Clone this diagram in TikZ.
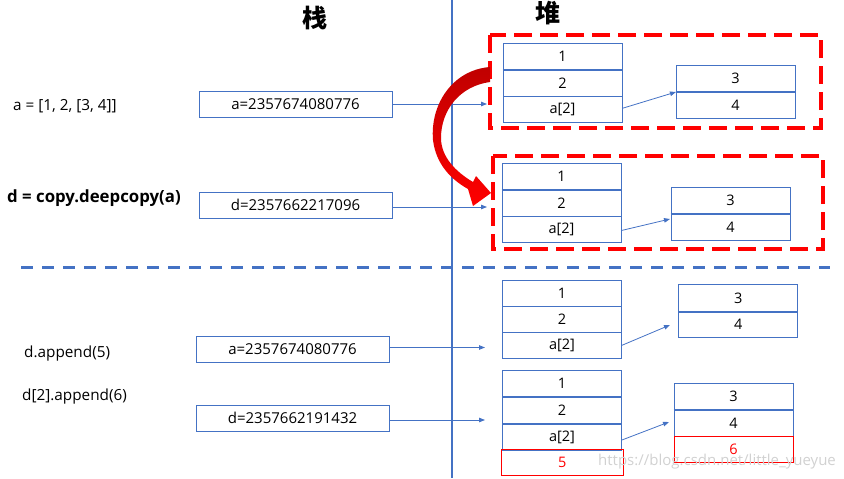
\documentclass[tikz,border=0pt]{standalone}
\usepackage{fontspec}
\setmainfont{Open Sans}
\newfontfamily\cjk{Noto Sans CJK SC}
\usetikzlibrary{arrows.meta}
\definecolor{bx}{HTML}{4472C4}
\definecolor{rd}{HTML}{FF0000}
\begin{document}
\begin{tikzpicture}[x=1pt,y=-1pt,
  cell/.style={draw=bx,line width=0.9pt,minimum width=119pt,minimum height=26.3pt,inner sep=0pt,font=\fontsize{14.5}{16}\selectfont},
  rcell/.style={cell,draw=rd,text=rd},
  sbox/.style={draw=bx,line width=0.9pt,minimum width=193pt,minimum height=26pt,inner sep=0pt,font=\fontsize{15}{17}\selectfont},
  sep/.style={draw=bx,line width=2pt},
  ptr/.style={draw=bx,line width=0.8pt,-{Triangle[length=6pt,width=4.5pt]}},
  reddash/.style={draw=rd,line width=4pt,dash pattern=on 18pt off 8pt},
  lbl/.style={font=\fontsize{15.3}{17}\selectfont,inner sep=0pt,anchor=west}]
\useasboundingbox (0,0) rectangle (844,479);
% titles
\node[font=\cjk\bfseries\fontsize{25}{27}\selectfont] (tstack) at (315,18) {栈};
\node[font=\cjk\bfseries\fontsize{25}{27}\selectfont] (theap) at (548,13) {堆};
% dividers
\draw[bx,line width=2pt] (452,0) -- (452,478);
\draw[bx,line width=3pt,dash pattern=on 12pt off 9pt] (21,267) -- (830,267);
% left labels
\node[lbl] (la) at (13,106) {a = [1, 2, [3, 4]]};
\node[lbl,font=\bfseries\fontsize{16.8}{18}\selectfont] (ld) at (7,198) {d = copy.deepcopy(a)};
\node[lbl] (lapp) at (24,354) {d.append(5)};
\node[lbl] (lapp2) at (22,397) {d[2].append(6)};
% stack boxes
\node[sbox] (s1) at (295.5,104) {a=2357674080776};
\node[sbox] (s2) at (295.5,205) {d=2357662217096};
\node[sbox] (s3) at (292.5,349) {a=2357674080776};
\node[sbox] (s4) at (292.5,418) {d=2357662191432};
% red dashed boxes
\draw[reddash] (490,35) rectangle (821,128);
\draw[reddash] (493,156) rectangle (823,249);
% heap list 1
\node[cell] (h1a) at (562.5,56.5) {1};
\node[cell] (h1b) at (562.5,83) {2};
\node[cell] (h1c) at (562.5,109.3) {a[2]};
\draw[sep] (h1a.south west) -- (h1a.south east);
\node[cell] (i1a) at (735.5,78.5) {3};
\node[cell] (i1b) at (735.5,105) {4};
\draw[sep] (i1a.south west) -- (i1a.south east);
% heap list 2
\node[cell] (h2a) at (561.5,176.7) {1};
\node[cell] (h2b) at (561.5,203.3) {2};
\node[cell] (h2c) at (561.5,229.5) {a[2]};
\draw[sep] (h2a.south west) -- (h2a.south east);
\node[cell] (i2a) at (730.5,200.3) {3};
\node[cell] (i2b) at (730.5,226.8) {4};
\draw[sep] (i2a.south west) -- (i2a.south east);
% heap list 3
\node[cell] (h3a) at (562,293.7) {1};
\node[cell] (h3b) at (562,319.5) {2};
\node[cell] (h3c) at (562,345.3) {a[2]};
\node[cell] (i3a) at (738.3,298) {3};
\node[cell] (i3b) at (738.3,324.2) {4};
\draw[sep] (i3a.south west) -- (i3a.south east);
% heap list 4
\node[cell] (h4a) at (562,383.7) {1};
\node[cell] (h4b) at (562,410.5) {2};
\node[cell] (h4c) at (562,437) {a[2]};
\node[rcell,minimum width=122pt] (h4d) at (562.3,462.2) {5};
\draw[sep] (h4a.south west) -- (h4a.south east);
\draw[sep] (h4b.south west) -- (h4b.south east);
\node[cell] (i4a) at (733.5,396.5) {3};
\node[cell] (i4b) at (733.5,422.8) {4};
\node[rcell] (i4c) at (733.5,449.4) {6};
\draw[sep] (i4a.south west) -- (i4a.south east);
% pointer end points
\coordinate (e1) at (487,104);
\coordinate (e2) at (487,207);
\coordinate (e3) at (485,347.5);
\coordinate (e4) at (485,420);
\coordinate (f1) at (676,92);
\coordinate (f2) at (670,219);
\coordinate (f3) at (670,325);
\coordinate (f4) at (669,422);
\draw[ptr] (s1.east) -- (e1);
\draw[ptr] (s2.east |- e2) -- (e2);
\draw[ptr] (s3.east |- e3) -- (e3);
\draw[ptr] (s4.east |- e4) -- (e4);
\draw[ptr] (h1c.east) ++(0,-1) -- (f1);
\draw[ptr] (h2c.east) ++(0,1) -- (f2);
\draw[ptr] (h3c.east) -- (f3);
\draw[ptr] (h4c.east) ++(0,3) -- (f4);
% red curved arrow
\shade[top color=red!75!black,bottom color=rd,draw=none]
  (490,67) .. controls (452,70) and (430,105) .. (433,140)
  .. controls (436,165) and (452,180) .. (468,189)
  -- (473,206) -- (491,193) -- (476,176) -- (473,182)
  .. controls (456,172) and (441,157) .. (441,138)
  .. controls (441,110) and (460,86) .. (490,82) -- cycle;
% watermark
\node[anchor=west,text=black!18,font=\fontsize{15}{17}\selectfont,inner sep=0pt] (wm) at (598,462) {https://blog.csdn.net/little\_yueyue};
\end{tikzpicture}
\end{document}
